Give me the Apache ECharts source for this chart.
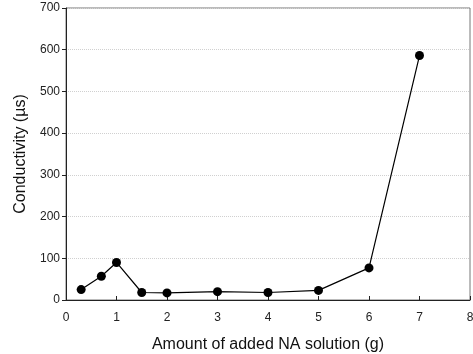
<!DOCTYPE html>
<html>
<head>
<meta charset="utf-8">
<script src="https://cdn.jsdelivr.net/npm/echarts@6/dist/echarts.min.js"></script>
<style>
  html, body { margin: 0; padding: 0; background: #fff; }
  #chart { width: 473px; height: 354px; }
</style>
</head>
<body>
<div id="chart"></div>
<script>
// amount of NA solution added (g)
var naAmount = [0.3, 0.7, 1, 1.5, 2, 3, 4, 5, 6, 7];
// conductivity (µs)
var conductivity = [25, 57, 90, 18, 17, 20, 18, 23, 77, 586];

var xTitle = 'Amount of added NA solution (g)';
var yTitle = 'Conductivity (\u00b5s)';

var points = naAmount.map(function (x, i) { return [x, conductivity[i]]; });

var chart = echarts.init(document.getElementById('chart'));
var font = 'Liberation Sans, Arial, sans-serif';

chart.setOption({
  animation: false,
  grid: {
    left: 66, right: 3, top: 8, bottom: 54,
    outerBoundsMode: 'none',
    containLabel: false,
    show: true,
    borderColor: '#777',
    borderWidth: 1
  },
  xAxis: {
    type: 'value',
    min: 0, max: 8, interval: 1,
    offset: 2,
    name: xTitle,
    nameLocation: 'middle',
    nameGap: 35,
    nameTextStyle: { fontFamily: font, fontSize: 16, color: '#111' },
    axisLine: { lineStyle: { color: '#222', width: 1 } },
    axisTick: { inside: true, length: 4, lineStyle: { color: '#222' } },
    axisLabel: { fontFamily: font, fontSize: 12, color: '#222', margin: 10 },
    splitLine: { show: false }
  },
  yAxis: {
    type: 'value',
    min: 0, max: 700, interval: 100,
    name: yTitle,
    nameLocation: 'middle',
    nameGap: 34,
    nameTextStyle: { fontFamily: font, fontSize: 16, color: '#111' },
    axisLine: { show: true, lineStyle: { color: '#222', width: 1 } },
    axisTick: { show: true, length: 4, lineStyle: { color: '#222' } },
    axisLabel: { fontFamily: font, fontSize: 12, color: '#222', margin: 6 },
    splitLine: { show: true, lineStyle: { type: 'dotted', color: '#d0d0d0' } }
  },
  series: [{
    type: 'line',
    data: points,
    symbol: 'circle',
    symbolSize: 9,
    itemStyle: { color: '#000' },
    lineStyle: { color: '#000', width: 1.2 }
  }]
});
</script>
</body>
</html>
